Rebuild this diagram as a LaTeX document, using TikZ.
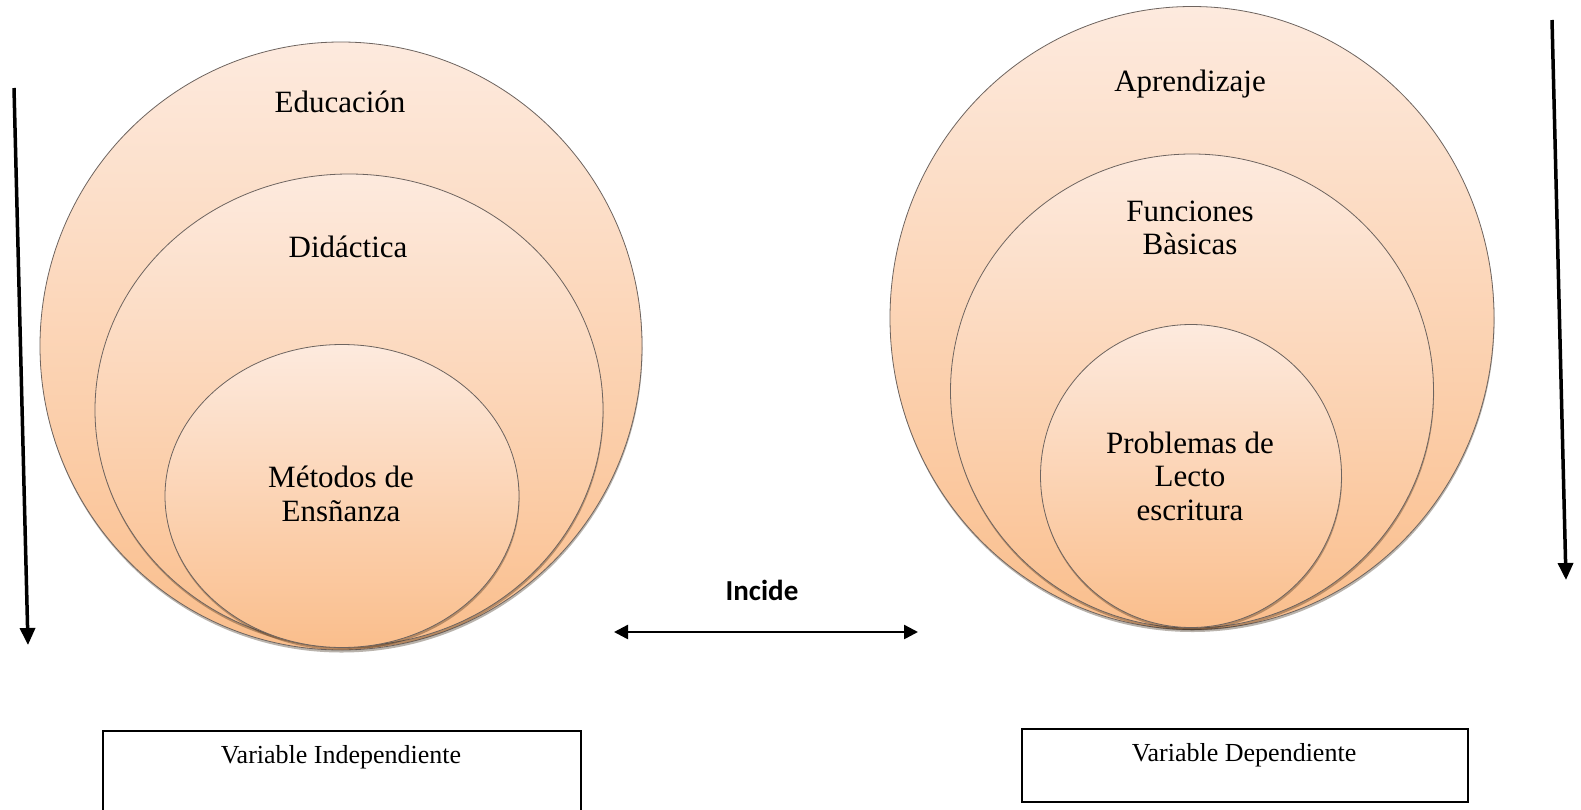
\documentclass[tikz,border=0pt]{standalone}
\usepackage{fontspec}
\setmainfont{Liberation Serif}
\newfontfamily\incfont{Carlito}
\usetikzlibrary{shapes.geometric,arrows.meta,shadows}
\definecolor{ctop}{RGB}{253,234,222}
\definecolor{cbot}{RGB}{250,190,140}
\definecolor{cline}{RGB}{110,100,95}
\begin{document}
\begin{tikzpicture}[x=1pt,y=-1pt,
  circ/.style={ellipse, draw=cline, line width=0.8pt, top color=ctop, bottom color=cbot, inner sep=0pt,
    drop shadow={shadow xshift=0.5pt, shadow yshift=-2.5pt, opacity=0.35, fill=black!70!brown}},
  lab/.style={font=\fontsize{31}{33.5}\selectfont, align=center},
  boxlab/.style={font=\fontsize{26}{30}\selectfont},
  varbox/.style={draw, line width=1.5pt, anchor=north west, inner sep=0pt},
  bigarrow/.style={line width=3.5pt, -{Triangle[length=17pt,width=15pt]}},
  dblarrow/.style={line width=2.5pt, {Triangle[length=14pt,width=14pt]}-{Triangle[length=14pt,width=14pt]}}
]
\begin{scope}
\clip (0,0) rectangle (1581,809);
\fill[white] (0,0) rectangle (1581,809);

% left group
\node[circ, minimum width=602pt, minimum height=608pt] (edu) at (341,346) {};
\node[circ, minimum width=508pt, minimum height=472pt] (did) at (349,410) {};
\node[circ, minimum width=354pt, minimum height=303pt] (met) at (342,496) {};
\node[lab] (tedu) at (340,102) {Educación};
\node[lab] (tdid) at (348,247) {Didáctica};
\node[lab] (tmet) at (341,494) {Métodos de\\Ensñanza};

% right group
\node[circ, minimum width=604pt, minimum height=623pt] (apr) at (1192,318) {};
\node[circ, minimum width=483pt, minimum height=474pt] (fun) at (1192,391) {};
\node[circ, minimum width=301pt, minimum height=303pt] (pro) at (1191,476) {};
\node[lab] (tapr) at (1190,84) {Aprendizaje};
\node[lab] (tfun) at (1190,228) {Funciones\\Bàsicas};
\node[lab] (tpro) at (1190,476) {Problemas de\\Lecto\\escritura};

% vertical arrows
\coordinate (la1) at (14,88);
\coordinate (la2) at (28,645);
\draw[bigarrow] (la1) -- (la2);
\coordinate (ra1) at (1552,20);
\coordinate (ra2) at (1566,580);
\draw[bigarrow] (ra1) -- (ra2);

% incide
\node[font=\incfont\bfseries\fontsize{29}{32}\selectfont] (inc) at (762,590) {Incide};
\coordinate (ia1) at (614,632);
\coordinate (ia2) at (918,632);
\draw[dblarrow] (ia1) -- (ia2);

% boxes
\node[varbox, minimum width=478pt, minimum height=95pt] (vi) at (102,730) {};
\node[boxlab] (tvi) at (341,757) {Variable Independiente};
\node[varbox, minimum width=446pt, minimum height=73pt] (vd) at (1021,728) {};
\node[boxlab] (tvd) at (1244,755) {Variable Dependiente};
\end{scope}
\pgfresetboundingbox
\useasboundingbox (0,0) rectangle (1581,809);
\end{tikzpicture}
\end{document}
